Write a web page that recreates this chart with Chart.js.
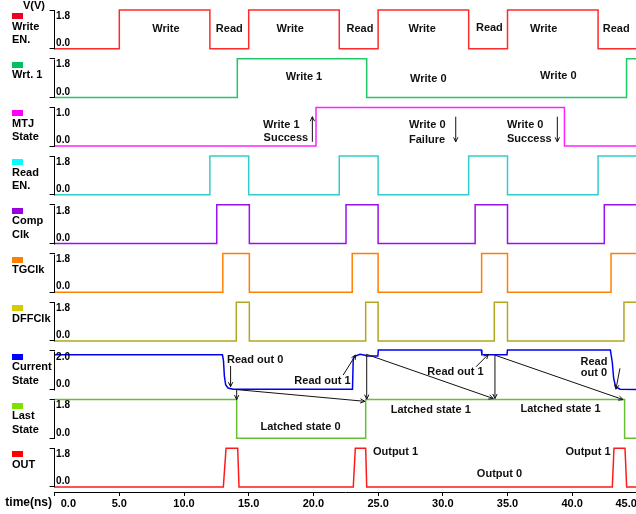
<!DOCTYPE html>
<html>
<head>
<meta charset="utf-8">
<script src="https://cdn.jsdelivr.net/npm/chart.js@4.4.1/dist/chart.umd.min.js"></script>
<style>
html,body{margin:0;padding:0;overflow:hidden;background:#fff;width:636px;height:514px}
#wrap{position:relative;width:660px;height:514px}
canvas{display:block}
</style>
</head>
<body>
<div id="wrap"><canvas id="c" width="660" height="514"></canvas></div>
<script>
const FONT = '"Liberation Sans", Arial, Helvetica, sans-serif';

// ---- time axis (ns) ----
const xTickLabels = ['0.0','5.0','10.0','15.0','20.0','25.0','30.0','35.0','40.0','45.0'];

// ---- panels (top to bottom) ----
const panelLabels = [['Write','EN.'],['Wrt. 1'],['MTJ','State'],['Read','EN.'],['Comp','Clk'],['TGClk'],['DFFClk'],['Current','State'],['Last','State'],['OUT']];
const panelSquareColors = ['#ee0022','#00c060','#ff00ff','#00ffff','#9900dd','#ff7f00','#d4cc00','#0000ff','#80e000','#ff0000'];
const panelLineColors = ['#ff2a2a','#22c866','#ff22ff','#33cccc','#9a10ee','#ff8000','#b0a820','#0000ee','#66c030','#ff1a1a'];
const axisTop = [1.8, 1.8, 1.0, 1.8, 1.8, 1.8, 1.8, 2.0, 1.8, 1.8];
const axisTopLabels = ['1.8','1.8','1.0','1.8','1.8','1.8','1.8','2.0','1.8','1.8'];
const axisZeroLabel = '0.0';

// ---- signals: [time ns] and [value V] ----
// stepped signals: value takes effect at the listed time
const writeEnT = [0, 5, 12, 15, 22, 25, 32, 35, 42, 45];
const writeEnV = [0, 1.8, 0, 1.8, 0, 1.8, 0, 1.8, 0, 0];
const wrt1T = [0, 14.12, 24.12, 44.2, 45];
const wrt1V = [0, 1.8, 0, 1.8, 1.8];
const mtjT = [0, 20.2, 39.4, 45];
const mtjV = [0, 1.0, 0, 0];
const readEnT = [0, 12, 15, 22, 25, 32, 35, 42, 45];
const readEnV = [0, 1.8, 0, 1.8, 0, 1.8, 0, 1.8, 1.8];
const compClkT = [0, 12.53, 15.05, 22.52, 25.0, 32.5, 35.0, 42.48, 45];
const compClkV = [0, 1.8, 0, 1.8, 0, 1.8, 0, 1.8, 1.8];
const tgClkT = [0, 13.0, 15.05, 23.0, 25.0, 33.0, 35.0, 43.0, 45];
const tgClkV = [0, 1.8, 0, 1.8, 0, 1.8, 0, 1.8, 1.8];
const dffClkT = [0, 14.04, 15.05, 24.04, 25.0, 33.98, 35.0, 44.0, 45];
const dffClkV = [0, 1.8, 0, 1.8, 0, 1.8, 0, 1.8, 1.8];
const lastStateT = [0, 14.07, 24.04, 44.05, 45];
const lastStateV = [1.8, 0, 1.8, 0, 0];
// analog-looking signals: straight segments between samples
const curStateT = [0, 12.97, 13.05, 13.12, 13.22, 13.4, 13.8, 23.02, 23.08, 23.2, 23.6, 24.0, 24.1, 24.98, 25.02, 32.98, 33.02, 34.96, 35.0, 42.95, 43.1, 43.2, 43.35, 43.7, 45];
const curStateV = [1.8, 1.8, 1.5, 0.7, 0.25, 0.08, 0.02, 0.02, 1.6, 1.72, 1.83, 1.78, 1.73, 1.73, 2.05, 2.05, 1.8, 1.8, 2.05, 2.05, 1.4, 0.6, 0.15, 0.02, 0.0];
const outT = [0, 13.04, 13.25, 14.15, 14.25, 23.08, 23.24, 24.04, 24.12, 43.1, 43.23, 44.08, 44.21, 45];
const outV = [0, 0, 1.8, 1.8, 0, 0, 1.8, 1.8, 0, 0, 1.8, 1.8, 0, 0];

// ---- annotations: [axis, time, value, text, align] ----
const annoTexts = [
  ['y0', 8.6, 0.9, 'Write', 'center'],
  ['y0', 13.5, 0.9, 'Read', 'center'],
  ['y0', 18.2, 0.9, 'Write', 'center'],
  ['y0', 23.6, 0.9, 'Read', 'center'],
  ['y0', 28.4, 0.9, 'Write', 'center'],
  ['y0', 33.6, 0.95, 'Read', 'center'],
  ['y0', 37.8, 0.9, 'Write', 'center'],
  ['y0', 43.4, 0.9, 'Read', 'center'],
  ['y1', 19.27, 0.96, 'Write 1', 'center'],
  ['y1', 28.88, 0.87, 'Write 0', 'center'],
  ['y1', 38.93, 0.98, 'Write 0', 'center'],
  ['y2', 16.11, 0.545, 'Write 1', 'left'],
  ['y2', 16.15, 0.2, 'Success', 'left'],
  ['y2', 27.39, 0.545, 'Write 0', 'left'],
  ['y2', 27.39, 0.16, 'Failure', 'left'],
  ['y2', 34.96, 0.545, 'Write 0', 'left'],
  ['y2', 34.96, 0.18, 'Success', 'left'],
  ['y7', 15.5, 1.53, 'Read out 0', 'center'],
  ['y7', 20.7, 0.46, 'Read out 1', 'center'],
  ['y7', 30.98, 0.89, 'Read out 1', 'center'],
  ['y7', 41.68, 1.44, 'Read', 'center'],
  ['y7', 41.68, 0.84, 'out 0', 'center'],
  ['y8', 19.0, 0.51, 'Latched state 0', 'center'],
  ['y8', 29.07, 1.32, 'Latched state 1', 'center'],
  ['y8', 39.1, 1.35, 'Latched state 1', 'center'],
  ['y9', 26.35, 1.61, 'Output 1', 'center'],
  ['y9', 34.38, 0.59, 'Output 0', 'center'],
  ['y9', 41.22, 1.64, 'Output 1', 'center']
];
// arrows: [fromAxis, t1, v1, toAxis, t2, v2] (head at the second point)
const annoArrows = [
  ['y2', 19.92, 0.11, 'y2', 19.92, 0.76],
  ['y2', 31.0, 0.76, 'y2', 31.0, 0.11],
  ['y2', 38.85, 0.76, 'y2', 38.85, 0.11],
  ['y7', 13.6, 1.22, 'y7', 13.6, 0.15],
  ['y7', 22.3, 0.75, 'y7', 23.27, 1.79],
  ['y7', 14.07, 0.0, 'y8', 14.07, 1.8],
  ['y7', 14.07, 0.0, 'y8', 23.97, 1.72],
  ['y7', 24.12, 1.78, 'y8', 24.12, 1.82],
  ['y7', 24.07, 1.83, 'y8', 33.9, 1.85],
  ['y7', 32.57, 1.18, 'y7', 33.52, 1.82],
  ['y7', 34.03, 1.78, 'y8', 34.03, 1.85],
  ['y7', 34.03, 1.78, 'y8', 43.93, 1.8],
  ['y7', 43.69, 1.10, 'y7', 43.38, 0.02]
];

const signals = [
  [writeEnT, writeEnV, true],
  [wrt1T, wrt1V, true],
  [mtjT, mtjV, true],
  [readEnT, readEnV, true],
  [compClkT, compClkV, true],
  [tgClkT, tgClkV, true],
  [dffClkT, dffClkV, true],
  [curStateT, curStateV, false],
  [lastStateT, lastStateV, true],
  [outT, outV, false]
];

const datasets = signals.map(([T, V, st], i) => ({
  data: T.map((t, k) => ({x: t, y: V[k]})),
  yAxisID: 'y' + i,
  xAxisID: 'x',
  borderColor: panelLineColors[i],
  borderWidth: 1.5,
  pointRadius: 0,
  fill: false,
  tension: 0,
  stepped: st ? 'before' : false
}));

const INNER = 38.7, PADPX = 5;
const scales = {
  x: {
    type: 'linear', position: 'bottom', min: 0, max: 45,
    ticks: {
      stepSize: 5, autoSkip: false, maxRotation: 0, minRotation: 0, padding: 1,
      color: '#000', font: {family: FONT, size: 11, weight: 'bold'},
      callback: (v, idx) => {
        const lbl = xTickLabels[idx];
        if (idx === 0) return ' '.repeat(9) + lbl;
        if (idx === xTickLabels.length - 1) return lbl + ' '.repeat(7);
        return lbl;
      }
    },
    grid: {display: true, drawOnChartArea: false, drawTicks: true, tickLength: 4, color: '#000', lineWidth: 1},
    border: {display: true, color: '#000', width: 1},
    afterFit: s => { s.height = 22; s.paddingLeft = 0; s.paddingRight = 0; }
  }
};
axisTop.forEach((top, i) => {
  const pad = top * PADPX / INNER;
  scales['y' + i] = {
    type: 'linear', position: 'left', stack: 'signals', stackWeight: 1, weight: 10 - i,
    min: -pad, max: top + pad, offset: false,
    afterBuildTicks: s => { s.ticks = [{value: 0}, {value: top}]; },
    ticks: {display: false},
    grid: {display: true, drawOnChartArea: false, drawTicks: true, tickLength: 5, color: '#000', lineWidth: 1},
    border: {display: false},
    afterFit: s => { s.width = 6; s.paddingTop = 0; s.paddingBottom = 0; }
  };
});

function drawArrow(ctx, x1, y1, x2, y2) {
  ctx.beginPath(); ctx.moveTo(x1, y1); ctx.lineTo(x2, y2); ctx.stroke();
  const a = Math.atan2(y2 - y1, x2 - x1), L = 5, w = 0.45;
  ctx.beginPath();
  ctx.moveTo(x2 - L * Math.cos(a - w), y2 - L * Math.sin(a - w));
  ctx.lineTo(x2, y2);
  ctx.lineTo(x2 - L * Math.cos(a + w), y2 - L * Math.sin(a + w));
  ctx.stroke();
}

const overlay = {
  id: 'overlay',
  afterDraw(chart) {
    const ctx = chart.ctx, xs = chart.scales.x;
    ctx.save();
    ctx.strokeStyle = '#000'; ctx.lineWidth = 1;
    for (let i = 0; i < axisTop.length; i++) {
      const s = chart.scales['y' + i];
      const yT = s.getPixelForValue(axisTop[i]), y0 = s.getPixelForValue(0);
      const xr = Math.round(s.right) - 0.5;
      ctx.strokeStyle = '#000';
      ctx.beginPath(); ctx.moveTo(xr, Math.round(yT) + 0.5); ctx.lineTo(xr, Math.round(y0) + 0.5); ctx.stroke();
      ctx.fillStyle = '#000';
      ctx.font = 'bold 10px ' + FONT; ctx.textAlign = 'left'; ctx.textBaseline = 'middle';
      ctx.fillText(axisTopLabels[i], s.right + 1.5, yT + 6);
      ctx.fillText(axisZeroLabel, s.right + 1.5, y0 - 5.5);
      ctx.fillStyle = panelSquareColors[i];
      ctx.fillRect(12, Math.round(yT + 3), 11, 6);
      ctx.fillStyle = '#000'; ctx.font = 'bold 11px ' + FONT;
      panelLabels[i].forEach((ln, k) => ctx.fillText(ln, 12, yT + 16.5 + 13.5 * k));
    }
    // header / axis title
    ctx.font = 'bold 11px ' + FONT; ctx.textAlign = 'left'; ctx.textBaseline = 'middle';
    ctx.fillText('V(V)', 23, 5.5);
    ctx.font = 'bold 12px ' + FONT; ctx.textAlign = 'right';
    ctx.fillText('time(ns)', 52, 502.5);
    // annotation texts
    ctx.font = 'bold 11px ' + FONT; ctx.fillStyle = '#111';
    annoTexts.forEach(([ax, t, v, txt, al]) => {
      ctx.textAlign = al; ctx.textBaseline = 'middle';
      ctx.fillText(txt, xs.getPixelForValue(t), chart.scales[ax].getPixelForValue(v));
    });
    // arrows
    ctx.strokeStyle = '#111'; ctx.lineWidth = 1;
    annoArrows.forEach(([a1, t1, v1, a2, t2, v2]) => {
      drawArrow(ctx, xs.getPixelForValue(t1), chart.scales[a1].getPixelForValue(v1),
                     xs.getPixelForValue(t2), chart.scales[a2].getPixelForValue(v2));
    });
    ctx.restore();
  }
};

new Chart(document.getElementById('c'), {
  type: 'line',
  data: {datasets},
  options: {
    responsive: false, animation: false, events: [],
    devicePixelRatio: 1,
    layout: {padding: {top: 5, left: 48.6, right: 23.1, bottom: 0}},
    plugins: {legend: {display: false}, tooltip: {enabled: false}},
    scales
  },
  plugins: [overlay]
});
</script>
</body>
</html>
